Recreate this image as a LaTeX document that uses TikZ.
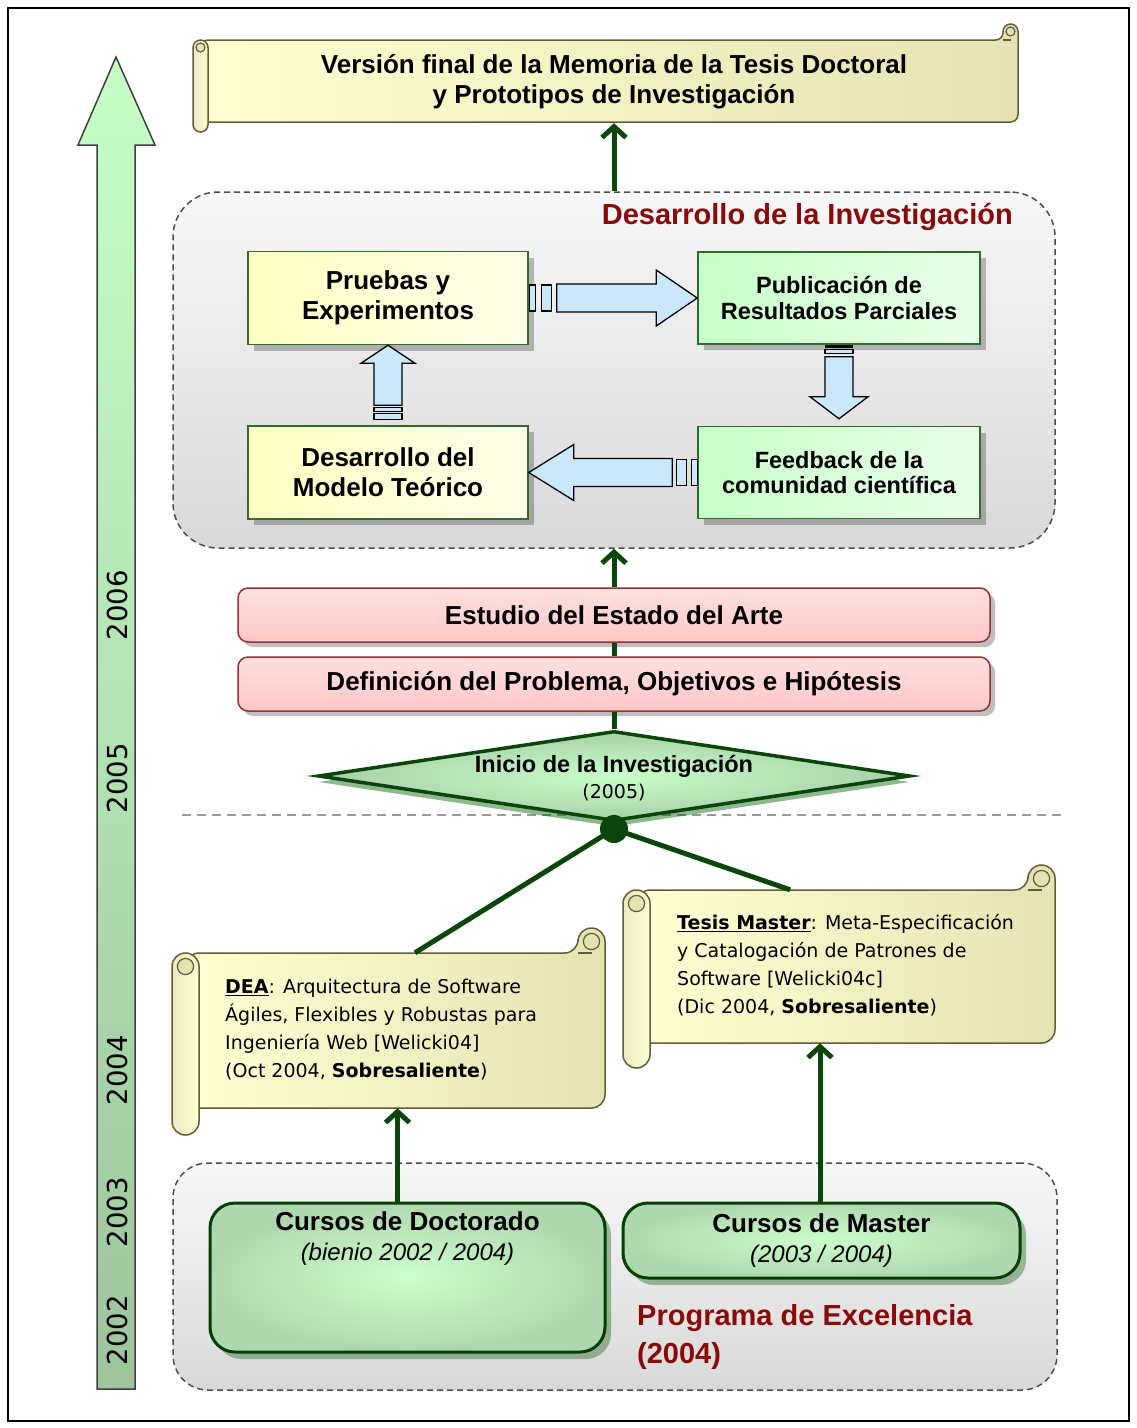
\documentclass[tikz,border=0pt]{standalone}
\usepackage{fontspec}
\setmainfont{Liberation Sans}
\newfontfamily\tahoma{DejaVu Sans}
\usetikzlibrary{shapes.geometric,shadows,arrows.meta,calc}

\definecolor{linkgreen}{HTML}{0B450B}
\definecolor{titlered}{HTML}{8A0A0A}
\definecolor{boxgreen}{HTML}{2F6B2F}
\definecolor{scrollline}{HTML}{5E5E3A}
\definecolor{arrowblue}{HTML}{CBE8FA}
\definecolor{parchlight}{HTML}{FFFFD2}
\definecolor{parchdark}{HTML}{E6E3B3}

% horizontal scroll: #1 left, #2 top, #3 right, #4 bottom,
% #5 roll width, #6 drop of the left roll, #7 rise of the right roll
\newcommand\scrollshape[7]{%
  \pgfmathsetmacro\rla{#1+#5}%
  \pgfmathsetmacro\rlh{#1+#5/2}%
  \pgfmathsetmacro\rra{#3-#5}%
  \pgfmathsetmacro\rrh{#3-#5/2}%
  \pgfmathsetmacro\rlb{#4+#6}%
  \pgfmathsetmacro\rrt{#2-#7}%
  \pgfmathsetmacro\rrad{#5/2}%
  \pgfmathsetmacro\rcur{#5*0.3}%
  \pgfmathsetmacro\rlc{#2+#5/2}%
  \pgfmathsetmacro\rrc{#2-#7+#5/2}%
  \draw[scrollstyle, rounded corners=\rrad pt] (\rlh,#2) -- (\rra,#2) -- (\rra,\rrt) -- (#3,\rrt) -- (#3,#4) -- (\rlh,#4) -- cycle;
  \draw[scrollstyle, rounded corners=\rrad pt, left color=parchdark!80, right color=parchlight] (#1,#2) rectangle (\rla,\rlb);
  \draw[scrollline, line width=1.2pt, fill=parchdark] (\rlh,\rlc) circle[radius=\rcur];
  \draw[scrollline, line width=1.2pt, fill=parchdark] (\rrh,\rrc) circle[radius=\rcur];
  \draw[scrollline, line width=1.2pt] (\rra,#2) -- (\rrh,#2);
}

\begin{document}
\begin{tikzpicture}[x=1pt,y=-1pt,
  conn/.style={draw=linkgreen, line width=5pt},
  connarrow/.style={conn, -{Straight Barb[length=11pt,width=24pt]}},
  scrollstyle/.style={draw=scrollline, line width=1.5pt, left color=parchlight, right color=parchdark},
  body/.style={inner sep=0pt, draw=none},
  headtext/.style={font=\fontsize{26}{30}\selectfont\bfseries, align=center, inner sep=0pt},
  scrolltext/.style={font=\tahoma\fontsize{19}{28}\selectfont, align=left, inner sep=0pt},
  cont/.style={draw=black!70, dash pattern=on 6pt off 4pt, line width=1.5pt, top color=black!3, bottom color=black!15},
  shade/.style={drop shadow={shadow xshift=6pt, shadow yshift=-6pt, fill=black, opacity=0.25}},
  ybox/.style={shade, draw=boxgreen, line width=1.5pt, left color=yellow!24, right color=yellow!8,
    minimum width=280pt, minimum height=93pt, inner sep=0pt, align=center, font=\fontsize{26}{30}\selectfont\bfseries},
  gbox/.style={shade, draw=boxgreen, line width=1.5pt, left color=green!22, right color=green!8,
    minimum width=282pt, minimum height=92pt, inner sep=0pt, align=center, font=\fontsize{23.5}{25.5}\selectfont\bfseries},
  barrow/.style={draw=black, line width=1.3pt, fill=arrowblue},
  rbox/.style={draw=red!45!black!80, line width=1.5pt, rounded corners=10pt, top color=red!12, bottom color=red!22,
    drop shadow={shadow xshift=5pt, shadow yshift=-5pt, fill=black, opacity=0.25},
    minimum width=752pt, minimum height=54pt, inner sep=0pt, font=\fontsize{26}{30}\selectfont\bfseries},
  cbox/.style={draw=green!25!black, line width=3pt, rounded corners=25pt, inner color=green!20, outer color=green!50!black!35!white!90,
    drop shadow={shadow xshift=6pt, shadow yshift=-7pt, fill=green!30!black, opacity=0.35},
    inner sep=0pt, align=center, font=\fontsize{26}{30}\selectfont\bfseries},
  redtitle/.style={text=titlered, font=\fontsize{29}{38}\selectfont\bfseries, inner sep=0pt, align=left},
  year/.style={rotate=90, font=\tahoma\fontsize{27.5}{30}\selectfont, inner sep=0pt}
]
\useasboundingbox (0,0) rectangle (1136,1428);
\fill[white] (0,0) rectangle (1136,1428);
\draw[line width=1.5pt] (8,8) rectangle (1129,1421);

% time line
\draw[draw=black!75, line width=1.5pt, top color=green!22, bottom color=green!40!black!45!white!85]
  (97,1389) -- (97,145) -- (78,145) -- (116,57) -- (155,145) -- (135,145) -- (135,1389) -- cycle;
\node[year] (y2006) at (117,605) {2006};
\node[year] (y2005) at (117,778) {2005};
\node[year] (y2004) at (117,1070) {2004};
\node[year] (y2003) at (117,1212) {2003};
\node[year] (y2002) at (117,1330) {2002};

% final result
\scrollshape{193}{40}{1018}{122}{15}{10}{16}
\node[headtext, minimum height=82pt] (final) at (614,82) {Versión final de la Memoria de la Tesis Doctoral\\y Prototipos de Investigación};

% research cycle
\node[cont, rounded corners=45pt, minimum width=882pt, minimum height=356pt] (desa) at (614,370) {};
\node[redtitle, anchor=east] (desatitle) at (1013,217) {Desarrollo de la Investigación};

\node[ybox] (pru) at (388,298) {Pruebas y\\Experimentos};
\node[gbox] (pub) at (839,298) {Publicación de\\Resultados Parciales};
\node[ybox] (mod) at (388,472.5) {Desarrollo del\\Modelo Teórico};
\node[gbox] (fee) at (839,472.5) {Feedback de la\\comunidad científica};

% block arrows of the cycle
\draw[barrow] ($(pru.east)+(1,-13)$) rectangle ($(pru.east)+(7,13)$);
\draw[barrow] ($(pru.east)+(13,-13)$) rectangle ($(pru.east)+(23,13)$);
\draw[barrow] ($(pru.east)+(28,-14)$) -- ($(pub.west)+(-41,-14)$) -- ($(pub.west)+(-41,-28)$) -- (pub.west)
  -- ($(pub.west)+(-41,28)$) -- ($(pub.west)+(-41,14)$) -- ($(pru.east)+(28,14)$) -- cycle;

\fill[black] ($(pub.south)+(-14,0)$) rectangle ($(pub.south)+(14,3)$);
\draw[barrow] ($(pub.south)+(-14,5)$) rectangle ($(pub.south)+(14,9)$);
\draw[barrow] ($(pub.south)+(-14,12)$) -- ($(fee.north)+(-14,-29)$) -- ($(fee.north)+(-29,-29)$) -- ($(fee.north)+(0,-7)$)
  -- ($(fee.north)+(29,-29)$) -- ($(fee.north)+(14,-29)$) -- ($(pub.south)+(14,12)$) -- cycle;

\draw[barrow] ($(fee.west)+(-6,-13)$) rectangle ($(fee.west)+(0,13)$);
\draw[barrow] ($(fee.west)+(-21,-13)$) rectangle ($(fee.west)+(-11,13)$);
\draw[barrow] ($(fee.west)+(-25,-14)$) -- ($(mod.east)+(45,-14)$) -- ($(mod.east)+(45,-28)$) -- (mod.east)
  -- ($(mod.east)+(45,28)$) -- ($(mod.east)+(45,14)$) -- ($(fee.west)+(-25,14)$) -- cycle;

\draw[barrow] ($(mod.north)+(-14,-6)$) rectangle ($(mod.north)+(14,-12)$);
\draw[barrow] ($(mod.north)+(-14,-14)$) rectangle ($(mod.north)+(14,-18)$);
\draw[barrow] ($(mod.north)+(-14,-20)$) -- ($(pru.south)+(-14,18)$) -- ($(pru.south)+(-27,18)$) -- (pru.south)
  -- ($(pru.south)+(27,18)$) -- ($(pru.south)+(14,18)$) -- ($(mod.north)+(14,-20)$) -- cycle;

\draw[connarrow] (desa.north) -- (final.south);

% problem statement
\node[rbox] (est) at (614,615) {Estudio del Estado del Arte};
\node[rbox] (def) at (614,684) {Definición del Problema, Objetivos e Hipótesis};

% separator 2004 / 2005
\draw[black!40, line width=1.5pt, dash pattern=on 9pt off 6pt] (182,815) -- (1065,815);

% start of research
\node[diamond, minimum width=592pt, minimum height=90pt, inner sep=0pt, draw=linkgreen, line width=3.5pt,
  inner color=green!22, outer color=green!45!black!40!white!85,
  drop shadow={shadow xshift=0pt, shadow yshift=-6pt, fill=green!40!black, opacity=0.45}] (inicio) at (614,776) {};
\node[inner sep=0pt, align=center, font=\fontsize{23.5}{26}\selectfont\bfseries] (iniciotxt) at (614,778)
  {Inicio de la Investigación\\{\mdseries\tahoma\fontsize{19}{26}\selectfont (2005)}};

\draw[connarrow] (est.north) -- (desa.south);
\draw[conn] (def.north) -- (est.south);
\draw[conn] (inicio.north) -- (def.south);

% theses
\scrollshape{172}{953}{605}{1108}{27}{27}{25}
\node[body, minimum width=433pt, minimum height=155pt] (dea) at (388.5,1030.5) {};
\node[scrolltext, anchor=west] (deatxt) at (225,1030)
  {\underline{\textbf{DEA}}: Arquitectura de Software\\Ágiles, Flexibles y Robustas para\\Ingeniería Web [Welicki04]\\(Oct 2004, \textbf{Sobresaliente})};

\scrollshape{623}{890}{1055}{1043}{27}{25}{25}
\node[body, minimum width=432pt, minimum height=153pt] (tesis) at (839,966.5) {};
\node[scrolltext, anchor=west] (tesistxt) at (677,965)
  {\underline{\textbf{Tesis Master}}: Meta-Especificación\\y Catalogación de Patrones de\\Software [Welicki04c]\\(Dic 2004, \textbf{Sobresaliente})};

\node[circle, fill=linkgreen, minimum size=28pt, inner sep=0pt] (join) at (614,829) {};
\draw[conn] (join.center) -- ($(dea.north west)!0.561!(dea.north east)$);
\draw[conn] (join.center) -- ($(tesis.north west)!0.387!(tesis.north east)$);

% courses
\node[cont, rounded corners=35pt, minimum width=884pt, minimum height=227pt] (prog) at (615,1276.5) {};
\node[cbox, minimum width=395pt, minimum height=149pt] (doct) at (407.5,1277.5) {};
\node[inner sep=0pt, align=center, font=\fontsize{26}{30}\selectfont\bfseries] (docttxt) at (407.5,1239)
  {Cursos de Doctorado\\{\mdseries\itshape\fontsize{24}{30}\selectfont (bienio 2002 / 2004)}};
\node[cbox, minimum width=397pt, minimum height=75pt] (mast) at (821.5,1240.5)
  {Cursos de Master\\{\mdseries\itshape\fontsize{24}{30}\selectfont (2003 / 2004)}};
\node[redtitle, anchor=west] (progtitle) at (637,1337) {Programa de Excelencia\\(2004)};

\coordinate (da) at ([xshift=-10pt]doct.north);
\coordinate (ma) at ([xshift=-1.5pt]mast.north);
\draw[connarrow] (da) -- (da |- dea.south);
\draw[connarrow] (ma) -- (ma |- tesis.south);
\end{tikzpicture}
\end{document}
